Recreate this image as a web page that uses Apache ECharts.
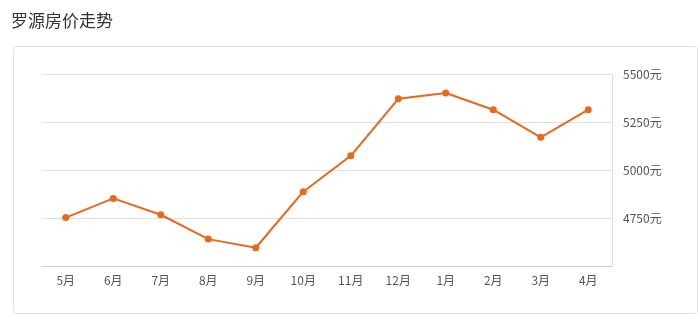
<!DOCTYPE html>
<html><head><meta charset="utf-8">
<script src="https://cdn.jsdelivr.net/npm/echarts@6/dist/echarts.min.js"></script>
<style>html,body{margin:0;padding:0;background:#fff}#c{width:700px;height:324px}</style>
</head><body><div id="c"></div>
<script>
const titleText = '罗源房价走势';
const months = ['5月','6月','7月','8月','9月','10月','11月','12月','1月','2月','3月','4月'];
const prices = [4752, 4852, 4767, 4640, 4595, 4887, 5074, 5371, 5401, 5314, 5170, 5314];
const yMin = 4500, yMax = 5500, yStep = 250;

const chart = echarts.init(document.getElementById('c'), null, {renderer:'canvas'});
chart.setOption({
  animation: false,
  backgroundColor: '#fff',
  title: {
    text: titleText, left: 6, top: 7,
    textStyle: {fontFamily: 'Noto Sans CJK SC', fontSize: 17, fontWeight: 'normal', color: '#333'}
  },
  graphic: [{
    type: 'rect', left: 13, top: 46, z: -1,
    shape: {width: 684, height: 267, r: 3},
    style: {fill: '#fff', stroke: '#e2e2e2', lineWidth: 1}
  }],
  grid: {left: 42, right: 88, top: 74, bottom: 58},
  xAxis: {
    type: 'category', data: months, boundaryGap: true,
    axisLine: {lineStyle: {color: '#d0d0d0', width: 1}},
    axisTick: {alignWithLabel: true, length: 3, lineStyle: {color: '#d0d0d0'}},
    axisLabel: {color: '#555', fontSize: 12, margin: 8, fontFamily: 'Noto Sans CJK SC'}
  },
  yAxis: {
    type: 'value', position: 'right', min: yMin, max: yMax, interval: yStep,
    axisLine: {show: true, lineStyle: {color: '#e0e0e0'}},
    axisTick: {show: false},
    splitLine: {lineStyle: {color: '#e0e0e0'}},
    axisLabel: {
      color: '#555', fontSize: 12, margin: 11, fontFamily: 'Noto Sans CJK SC',
      formatter: v => v === yMin ? '' : v + '元'
    }
  },
  series: [{
    type: 'line', data: prices,
    symbol: 'circle', symbolSize: 7,
    lineStyle: {color: '#e8681c', width: 2},
    itemStyle: {color: '#e8681c'}
  }]
});
</script></body></html>
